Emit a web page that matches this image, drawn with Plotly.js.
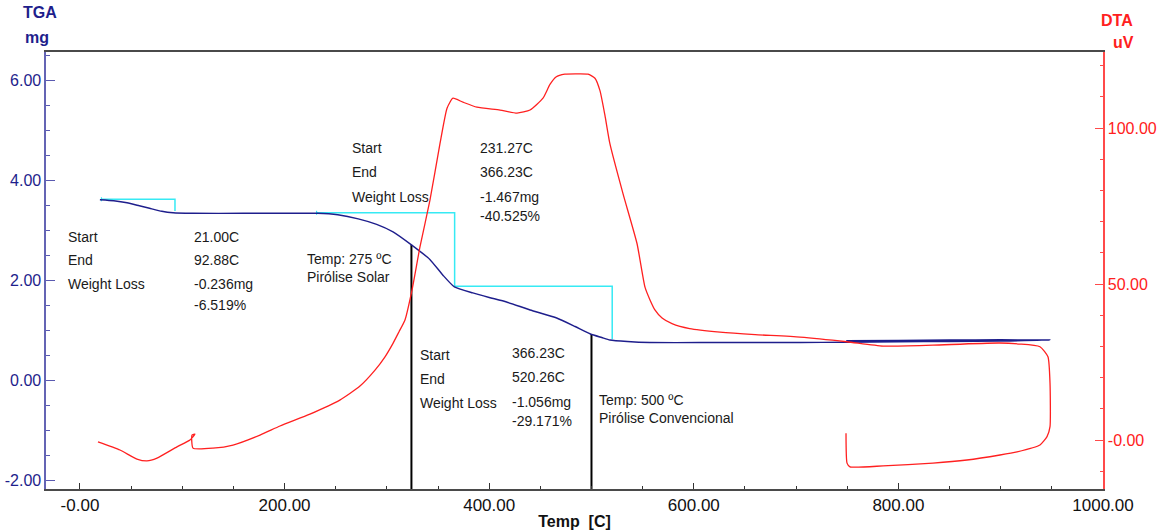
<!DOCTYPE html>
<html>
<head>
<meta charset="utf-8">
<script src="https://cdn.plot.ly/plotly-3.0.1.min.js"></script>
<style>
  html, body { margin: 0; padding: 0; background: #ffffff; }
  #chart { width: 1166px; height: 530px; }
</style>
</head>
<body>
<div id="chart"></div>
<script>
// Thermogravimetric (TGA) curve: temperature [C] vs mass [mg]
const tgaTemp = [19.5, 33, 46, 58, 68, 80, 91, 110, 160, 208, 232, 252, 272, 290, 306, 324, 342, 355, 366,
  384, 400, 417, 440, 466, 484, 499, 510, 518, 535, 557, 606, 704, 748, 800, 850, 900, 948, 900, 850, 800, 749];
const tgaMass = [3.61, 3.59, 3.55, 3.49, 3.44, 3.38, 3.35, 3.34, 3.34, 3.34, 3.34, 3.31, 3.23, 3.12, 2.97, 2.71, 2.42, 2.10, 1.87,
  1.75, 1.66, 1.57, 1.41, 1.25, 1.08, 0.93, 0.86, 0.81, 0.78, 0.76, 0.76, 0.76, 0.765, 0.775, 0.78, 0.79, 0.81, 0.815, 0.81, 0.80, 0.795];

// Differential thermal analysis (DTA) curve: temperature [C] vs signal [uV]
const dtaTemp = [17.6, 39.1, 55.7, 65.5, 75.3, 94.8, 107.5, 112.4, 109.5, 110.5, 130, 149.6, 176, 195.5, 224.8, 254,
  273.7, 288.4, 298, 306, 312, 317.7, 324.5, 332.4, 342.1, 351.9, 358.8, 364.6, 374.4, 388, 410.6, 427.2, 439.9,
  452.6, 459.4, 465.3, 474, 487, 496.6, 503.4, 508.3, 513.2, 518, 530.8, 544.5, 552.3, 557.2, 562, 569, 578.7,
  596, 625.6, 660, 703.8, 749.8, 785, 833.8, 899.3, 938.4, 946.2, 948.2, 948.2, 945.3, 938.4, 916, 899.3, 867,
  833.8, 785, 752.7, 749.8, 748.8];
const dtaSignal = [-0.6, -3.2, -6.1, -6.7, -5.8, -2.2, 0.0, 1.9, 1.6, -2.6, -2.6, -1.6, 1.6, 4.5, 8.3, 12.8,
  17.3, 22.4, 26.6, 31.0, 34.8, 38.5, 48.0, 62.0, 76.9, 95.0, 106.4, 109.6, 108.3, 106.7, 105.8, 104.8, 105.8,
  109.6, 114.0, 116.4, 117.3, 117.4, 117.3, 116.0, 112.0, 104.0, 95.0, 79.0, 63.0, 49.0, 44.9, 41.7, 39.1, 37.3,
  35.7, 34.6, 33.8, 33.0, 31.5, 30.1, 30.4, 31.1, 29.9, 26.7, 18.3, 4.3, 1.1, -1.6, -3.8, -4.8, -6.4,
  -7.4, -8.3, -8.6, -7.4, 2.2];

// Weight-loss steps
const stepStart = [21.00, 231.27, 366.23];
const stepEnd = [92.88, 366.23, 520.26];
const stepStartMass = [3.62, 3.35, 1.883];
const stepLossMg = [-0.236, -1.467, -1.056];
const stepLossPct = [-6.519, -40.525, -29.171];

// Pyrolysis temperature markers
const markerTemp = [324, 500];
const markerMass = [2.71, 0.93];
const markerLabel = ["Temp: 275 ºC<br>Pirólise Solar", "Temp: 500 ºC<br>Pirólise Convencional"];

// Axis ticks
const xTickVals = [0, 200, 400, 600, 800, 1000];
const xTickText = ["-0.00", "200.00", "400.00", "600.00", "800.00", "1000.00"];
const yTickVals = [-2, 0, 2, 4, 6];
const yTickText = ["-2.00", "0.00", "2.00", "4.00", "6.00"];
const y2TickVals = [0, 50, 100];
const y2TickText = ["-0.00", "50.00", "100.00"];

const X_RANGE = [-33.2, 1000];
const Y_RANGE = [-2.164, 6.56];
const Y2_RANGE = [-15.7, 124.4];

const NAVY = "#1e1e8c";
const RED = "#ff2020";
const CYAN = "#36eaf4";
const FONT = "Liberation Sans, Arial, sans-serif";

// step outline built from the step table
const stepX = [], stepY = [];
for (let i = 0; i < stepStart.length; i++) {
  const top = stepStartMass[i];
  const bottom = top + stepLossMg[i];
  stepX.push(stepStart[i], stepEnd[i], stepEnd[i], null);
  stepY.push(top, top, bottom, null);
}
// short start marks of the first two steps
const startMarkX = [], startMarkY = [];
for (let i = 0; i < 2; i++) {
  startMarkX.push(stepStart[i], stepStart[i], null);
  startMarkY.push(stepStartMass[i] + 0.04, stepStartMass[i] - 0.04, null);
}

// vertical temperature markers from the bottom of the frame up to the TGA curve
const markX = [], markY = [];
for (let i = 0; i < markerTemp.length; i++) {
  markX.push(markerTemp[i], markerTemp[i], null);
  markY.push(Y_RANGE[0], markerMass[i], null);
}

const traces = [
  { x: dtaTemp, y: dtaSignal, yaxis: "y2", type: "scatter", mode: "lines",
    line: { color: RED, width: 1.3, shape: "spline", smoothing: 0.5 }, hoverinfo: "skip" },
  { x: stepX, y: stepY, type: "scatter", mode: "lines",
    line: { color: CYAN, width: 1.5 }, hoverinfo: "skip" },
  { x: startMarkX, y: startMarkY, type: "scatter", mode: "lines",
    line: { color: CYAN, width: 1.2 }, hoverinfo: "skip" },
  { x: markX, y: markY, type: "scatter", mode: "lines",
    line: { color: "#000000", width: 2 }, hoverinfo: "skip" },
  { x: tgaTemp, y: tgaMass, type: "scatter", mode: "lines",
    line: { color: NAVY, width: 1.4, shape: "spline", smoothing: 0.5 }, hoverinfo: "skip" }
];

// plot-area geometry in pixels, for placing header texts
const M = { l: 46, r: 63, t: 52, b: 41 };
const W = 1166, H = 530;
const px2paperX = px => (px - M.l) / (W - M.l - M.r);
const px2paperY = py => (H - M.b - py) / (H - M.t - M.b);

const annotations = [];
const txtFont = { family: FONT, size: 14, color: "#1a1a1a" };
function addText(x, y, text) {
  annotations.push({ x: x, y: y, xref: "x", yref: "y", text: text, showarrow: false,
    xanchor: "left", yanchor: "middle", align: "left", font: txtFont, borderpad: 0 });
}

// step tables: label column, value column, rows
const tableLayout = [
  { labelX: -12.5, valueX: 110.5, rows: [2.867, 2.407, 1.928, 1.509], valueRows: [2.867, 2.407, 1.928, 1.509] },
  { labelX: 265.0, valueX: 390.0, rows: [4.643, 4.164, 3.665, 3.285], valueRows: [4.643, 4.164, 3.665, 3.285] },
  { labelX: 331.5, valueX: 421.5, rows: [0.511, 0.032, -0.447, -0.806], valueRows: [0.551, 0.072, -0.427, -0.806] }
];
for (let i = 0; i < stepStart.length; i++) {
  const t = tableLayout[i];
  addText(t.labelX, t.rows[0], "Start");
  addText(t.labelX, t.rows[1], "End");
  addText(t.labelX, t.rows[2], "Weight Loss");
  addText(t.valueX, t.valueRows[0], stepStart[i].toFixed(2) + "C");
  addText(t.valueX, t.valueRows[1], stepEnd[i].toFixed(2) + "C");
  addText(t.valueX, t.valueRows[2], stepLossMg[i].toFixed(3) + "mg");
  addText(t.valueX, t.valueRows[3], stepLossPct[i].toFixed(3) + "%");
}

// marker captions
const markerTextPos = [{ x: 221.0, y: 2.24 }, { x: 506.5, y: -0.576 }];
for (let i = 0; i < markerLabel.length; i++) {
  addText(markerTextPos[i].x, markerTextPos[i].y, markerLabel[i]);
}

// axis headers
const headFont = (c) => ({ family: FONT, size: 16, color: c, weight: "bold" });
function addHead(px, py, text, color) {
  annotations.push({ x: px2paperX(px), y: px2paperY(py), xref: "paper", yref: "paper", text: text,
    showarrow: false, xanchor: "center", yanchor: "middle", font: headFont(color) });
}
addHead(40, 12, "TGA", NAVY);
addHead(37, 37, "mg", NAVY);
addHead(1117, 20, "DTA", RED);
addHead(1123, 43, "uV", RED);

const layout = {
  width: W, height: H,
  margin: M,
  paper_bgcolor: "#ffffff",
  plot_bgcolor: "#ffffff",
  showlegend: false,
  font: { family: FONT },
  xaxis: {
    range: X_RANGE, tickmode: "array", tickvals: xTickVals, ticktext: xTickText,
    ticks: "inside", ticklen: 6, tickwidth: 1, tickcolor: "#333333",
    minor: { tickmode: "linear", tick0: 0, dtick: 50, ticks: "inside", ticklen: 3, tickcolor: "#333333" },
    showline: true, linecolor: "#4a4a4a", linewidth: 1.6, mirror: true,
    showgrid: false, zeroline: false, automargin: false,
    tickfont: { family: FONT, size: 17, color: "#111111" },
    title: { text: "Temp  [C]", font: { family: FONT, size: 16, color: "#111111", weight: "bold" }, standoff: 4 }
  },
  yaxis: {
    range: Y_RANGE, tickmode: "array", tickvals: yTickVals, ticktext: yTickText,
    ticks: "inside", ticklen: 9, tickwidth: 1, tickcolor: "#5a5ab0",
    minor: { tickmode: "linear", tick0: 0, dtick: 0.5, ticks: "inside", ticklen: 4, tickcolor: "#5a5ab0" },
    showline: true, linecolor: "#6464b4", linewidth: 1.6,
    showgrid: false, zeroline: false, automargin: false,
    tickfont: { family: FONT, size: 16, color: NAVY }
  },
  yaxis2: {
    range: Y2_RANGE, overlaying: "y", side: "right", anchor: "x",
    tickmode: "array", tickvals: y2TickVals, ticktext: y2TickText,
    ticks: "inside", ticklen: 8, tickwidth: 1, tickcolor: "#ff4a4a",
    minor: { tickmode: "linear", tick0: 0, dtick: 10, ticks: "inside", ticklen: 3, tickcolor: "#ff4a4a" },
    showline: true, linecolor: "#ff4a4a", linewidth: 1.6,
    showgrid: false, zeroline: false, automargin: false,
    tickfont: { family: FONT, size: 16, color: RED }
  },
  annotations: annotations
};

Plotly.newPlot("chart", traces, layout, { staticPlot: true, displayModeBar: false });
</script>
</body>
</html>
